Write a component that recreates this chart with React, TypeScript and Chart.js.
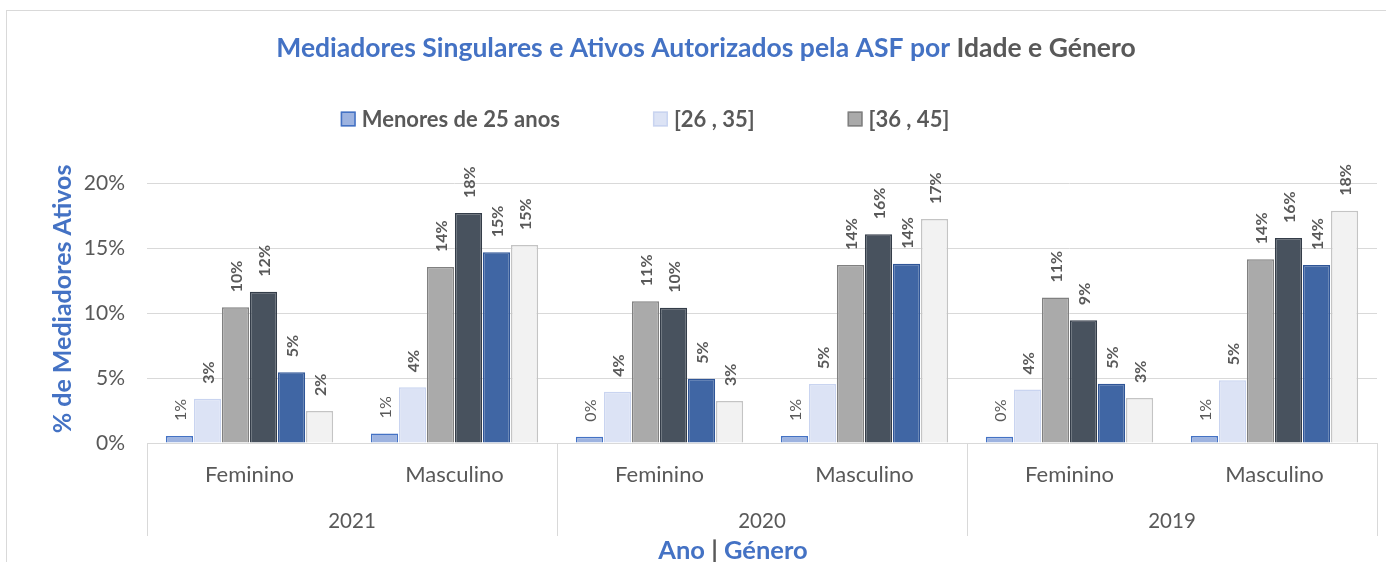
import React, { useEffect, useRef } from "react";
import { Chart, registerables } from "chart.js";

Chart.register(...registerables);

const years = ["2021", "2020", "2019"];
const genders = ["Feminino", "Masculino"];
const categories = years.flatMap((y) => genders.map((g) => `${y} ${g}`));

const seriesNames = ["Menores de 25 anos", "[26 , 35]", "[36 , 45]", "[46 , 55]", "[56 , 65]", "> 65 anos"];

// values in %, order: 2021F, 2021M, 2020F, 2020M, 2019F, 2019M
const menores25 = [0.54, 0.74, 0.49, 0.54, 0.49, 0.54];
const idade26a35 = [3.41, 4.28, 3.94, 4.53, 4.12, 4.82];
const idade36a45 = [10.44, 13.54, 10.91, 13.7, 11.19, 14.14];
const idade46a55 = [11.64, 17.69, 10.4, 16.06, 9.45, 15.77];
const idade56a65 = [5.44, 14.67, 4.94, 13.78, 4.56, 13.7];
const mais65 = [2.46, 15.23, 3.23, 17.23, 3.46, 17.87];

const yTicks = [0, 5, 10, 15, 20];

const fills = ["#9db3e0", "#dce3f5", "#aaaaaa", "#48525e", "#4066a4", "#f2f2f2"];
const borders = ["#4472c4", "#c9d4f0", "#808080", "#343d49", "#2f5597", "#c4c4c4"];

const FONT = "Lato, 'Open Sans', sans-serif";
const GREY = "#595959";
const BLUE = "#4472c4";

const overlay = {
  id: "overlay",
  afterDatasetsDraw(chart: any) {
    const ctx = chart.ctx;
    // data labels
    chart.data.datasets.forEach((ds: any, di: number) => {
      const meta = chart.getDatasetMeta(di);
      meta.data.forEach((el: any, i: number) => {
        const v = ds.data[i];
        ctx.save();
        ctx.translate(el.x, el.y - 15);
        ctx.rotate(-Math.PI / 2);
        ctx.font = `${di === 0 ? "normal" : "bold"} 16px ${FONT}`;
        ctx.fillStyle = GREY;
        ctx.textAlign = "left";
        ctx.textBaseline = "middle";
        ctx.fillText(`${Math.round(v)}%`, 0, 1);
        ctx.restore();
      });
    });
  },
  afterDraw(chart: any) {
    const ctx = chart.ctx;
    const area = chart.chartArea;
    const xs = chart.scales.x;
    ctx.save();
    // frame
    ctx.strokeStyle = "#d9d9d9";
    ctx.lineWidth = 1;
    ctx.strokeRect(6.5, 10.5, 1500, 700);

    // title
    ctx.font = `bold 26.5px ${FONT}`;
    ctx.textBaseline = "middle";
    ctx.textAlign = "left";
    const t1 = "Mediadores Singulares e Ativos Autorizados pela ASF por ";
    const t2 = "Idade e Género";
    const w1 = ctx.measureText(t1).width;
    const w2 = ctx.measureText(t2).width;
    let tx = 706 - (w1 + w2) / 2;
    ctx.fillStyle = BLUE;
    ctx.fillText(t1, tx, 48);
    ctx.fillStyle = GREY;
    ctx.fillText(t2, tx + w1, 48);

    // legend (first three series)
    ctx.font = `bold 22px ${FONT}`;
    const items = [0, 1, 2];
    const box = 15;
    const gapText = 6;
    const gapItem = 93;
    const widths = items.map((i) => ctx.measureText(seriesNames[i]).width);
    const total = widths.reduce((a, w) => a + box + gapText + w, 0) + gapItem * (items.length - 1);
    let lx = 645 - total / 2;
    const ly = 119;
    items.forEach((i, k) => {
      ctx.fillStyle = fills[i];
      ctx.fillRect(lx, ly - box / 2, box, box);
      ctx.strokeStyle = borders[i];
      ctx.lineWidth = 1.5;
      ctx.strokeRect(lx + 0.75, ly - box / 2 + 0.75, box - 1.5, box - 1.5);
      ctx.fillStyle = GREY;
      ctx.fillText(seriesNames[i], lx + box + gapText, ly + 1);
      lx += box + gapText + widths[k] + gapItem;
    });

    // multi-level category axis
    const n = categories.length;
    const catW = (area.right - area.left) / n;
    ctx.font = `22px ${FONT}`;
    ctx.fillStyle = GREY;
    ctx.textAlign = "center";
    for (let i = 0; i < n; i++) {
      ctx.fillText(genders[i % genders.length], xs.getPixelForValue(i), area.bottom + 32);
    }
    ctx.font = `20.5px ${FONT}`;
    years.forEach((y, k) => {
      const c = (xs.getPixelForValue(2 * k) + xs.getPixelForValue(2 * k + 1)) / 2;
      ctx.fillText(y, c, area.bottom + 78);
    });
    ctx.strokeStyle = "#d9d9d9";
    ctx.lineWidth = 1;
    for (let k = 0; k <= years.length; k++) {
      const x = Math.round(area.left + k * 2 * catW) + 0.5;
      ctx.beginPath();
      ctx.moveTo(x, area.bottom);
      ctx.lineTo(x, area.bottom + 93);
      ctx.stroke();
    }

    // x title
    ctx.font = `bold 25.5px ${FONT}`;
    ctx.textAlign = "left";
    const a1 = "Ano";
    const a2 = " | ";
    const a3 = "Género";
    const aw1 = ctx.measureText(a1).width;
    const aw2 = ctx.measureText(a2).width;
    const aw3 = ctx.measureText(a3).width;
    let ax = 733 - (aw1 + aw2 + aw3) / 2;
    ctx.fillStyle = BLUE;
    ctx.fillText(a1, ax, 551);
    ctx.fillStyle = GREY;
    ctx.fillText(a2, ax + aw1, 551);
    ctx.fillStyle = BLUE;
    ctx.fillText(a3, ax + aw1 + aw2, 551);

    // y title
    ctx.translate(63, 299);
    ctx.rotate(-Math.PI / 2);
    ctx.textAlign = "center";
    ctx.font = `bold 25px ${FONT}`;
    ctx.fillStyle = BLUE;
    ctx.fillText("% de Mediadores Ativos", 0, 0);
    ctx.restore();
  },
};

export default function App() {
  const ref = useRef<HTMLCanvasElement>(null);
  useEffect(() => {
    if (!ref.current) return;
    const allSeries = [menores25, idade26a35, idade36a45, idade46a55, idade56a65, mais65];
    const chart = new Chart(ref.current, {
      type: "bar",
      data: {
        labels: categories,
        datasets: allSeries.map((d, i) => ({
          label: seriesNames[i],
          data: d,
          backgroundColor: fills[i],
          borderColor: borders[i],
          borderWidth: 1.5,
          categoryPercentage: 0.82,
          barPercentage: 0.97,
        })),
      },
      options: {
        responsive: false,
        animation: false,
        layout: { padding: { top: 183, right: 9, bottom: 0, left: 0 } },
        plugins: {
          legend: { display: false },
          title: { display: false },
          tooltip: { enabled: false },
        },
        scales: {
          x: {
            grid: { display: false, drawTicks: false },
            border: { display: false },
            ticks: { display: false },
            afterFit: (s: any) => {
              s.height = 119;
            },
          },
          y: {
            min: 0,
            max: 20,
            afterBuildTicks: (s: any) => {
              s.ticks = yTicks.map((v) => ({ value: v }));
            },
            afterFit: (s: any) => {
              s.width = 147;
            },
            grid: { color: "#d9d9d9", lineWidth: 1, drawTicks: false },
            border: { display: false },
            ticks: {
              padding: 22,
              color: GREY,
              font: { family: FONT, size: 21 },
              callback: (v: any) => `${v}%`,
            },
          },
        },
      },
      plugins: [overlay],
    });
    return () => chart.destroy();
  }, []);
  return (
    <div style={{ position: "absolute", left: 0, top: 0, width: 1386, height: 562, background: "#fff" }}>
      <canvas ref={ref} width={1386} height={562} />
    </div>
  );
}
